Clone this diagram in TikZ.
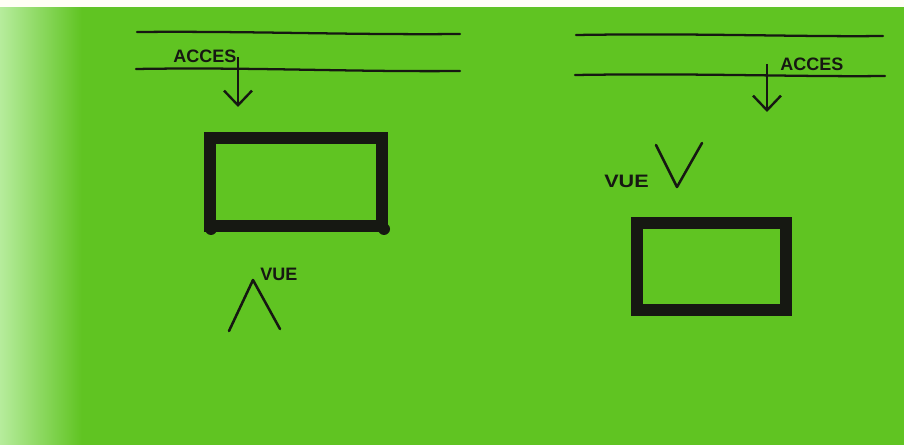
\documentclass[tikz,border=0pt]{standalone}
\usepackage{fontspec}
\setmainfont{Liberation Sans}
\usepackage{tikz}
\usetikzlibrary{arrows.meta, positioning}
\definecolor{paper}{RGB}{96,196,34}
\definecolor{paperlite}{RGB}{182,236,156}
\definecolor{ink}{RGB}{22,24,18}

\begin{document}
\begin{tikzpicture}[x=0.75pt, y=-0.75pt,
    road/.style={ink, line width=1.7pt, line cap=round},
    wall/.style={ink, line width=9.5pt, line join=miter},
    sight/.style={ink, line width=1.9pt, line cap=round, line join=round},
    access/.style={ink, line width=1.8pt, -{Straight Barb[length=11pt, width=21pt, line width=1.8pt]}},
    lbl/.style={ink, font=\fontsize{13.5}{15}\selectfont\bfseries, inner sep=0pt}]
  % sheet
  \useasboundingbox (0,0) rectangle (904,445);
  \fill[paper] (0,0) rectangle (904,445);
  \shade[left color=paperlite, right color=paper] (0,7) rectangle (82,445);
  \fill[white!96!yellow] (0,0) rectangle (904,7);

  % left: access from the road, view on the far side
  \draw[road] (137,32) .. controls (250,31) and (350,35) .. (460,34);
  \draw[road] (136,69) .. controls (250,67) and (350,72) .. (460,71);
  \node[lbl] (accesL) at (205,56) {ACCES};
  \coordinate (fromL) at (238,57);
  \coordinate (toL) at (238,107);
  \draw[access] (fromL) -- (toL);
  \draw[wall] (210,138) rectangle (382,226);
  \fill[ink] (211,229) circle (6) (384,229) circle (6);
  \coordinate (vueLa) at (229,331);
  \coordinate (vueLb) at (253,280);
  \coordinate (vueLc) at (280,329);
  \draw[sight] (vueLa) -- (vueLb) -- (vueLc);
  \node[lbl, anchor=west] (vueL) at (260,274) {VUE};

  % right: view towards the road side
  \draw[road] (576,35) .. controls (700,33) and (800,37) .. (883,36);
  \draw[road] (575,75) .. controls (700,73) and (800,77) .. (885,76);
  \node[lbl, anchor=west] (accesR) at (780,64) {ACCES};
  \coordinate (fromR) at (767,64);
  \coordinate (toR) at (767,112);
  \draw[access] (fromR) -- (toR);
  \coordinate (vueRa) at (656,145);
  \coordinate (vueRb) at (677,187);
  \coordinate (vueRc) at (702,143);
  \draw[sight] (vueRa) -- (vueRb) -- (vueRc);
  \node[lbl, left=21pt of vueRb, yshift=4pt, xscale=1.2] (vueR) {VUE};
  \draw[wall] (637,223) rectangle (786,310);
\end{tikzpicture}
\end{document}
